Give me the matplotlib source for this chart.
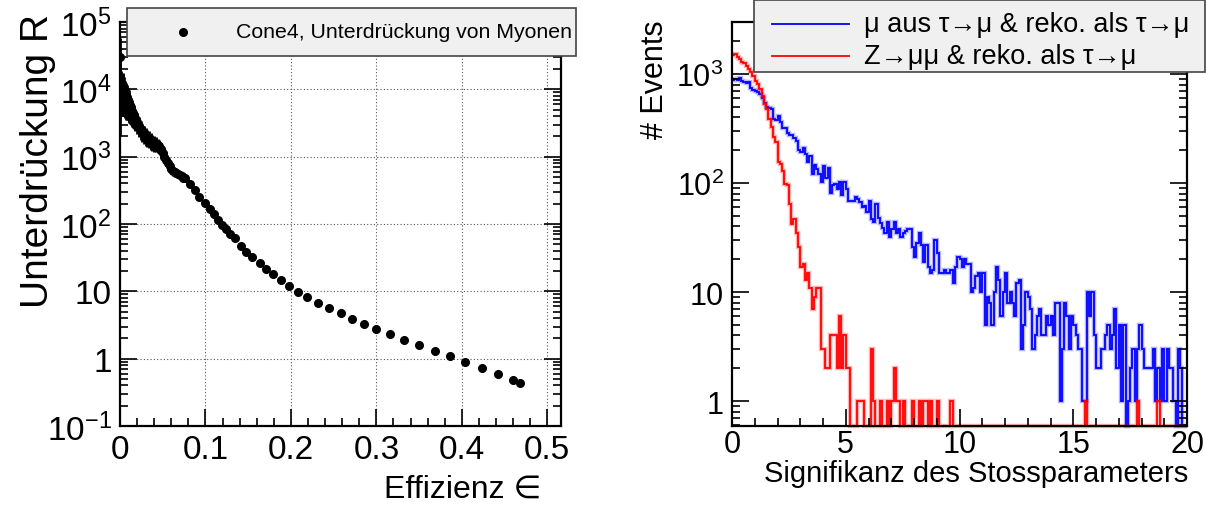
import numpy as np
import matplotlib
matplotlib.use('Agg')
from matplotlib import pyplot as plt
from matplotlib.ticker import FuncFormatter, LogLocator, MultipleLocator, NullFormatter
from matplotlib.patches import Rectangle
from matplotlib.lines import Line2D

plt.rcParams['font.family'] = ['Liberation Sans', 'DejaVu Sans']
plt.rcParams['mathtext.fontset'] = 'custom'
plt.rcParams['mathtext.rm'] = 'Liberation Sans'
plt.rcParams['axes.unicode_minus'] = False

# ---- left: Unterdrueckung vs Effizienz ----
eff_lo = [0.0, 0.0, 0.001, 0.002, 0.003, 0.004, 0.005, 0.006, 0.007, 0.008,
          0.009, 0.010, 0.011, 0.012, 0.013, 0.014, 0.015, 0.016, 0.018, 0.020,
          0.022, 0.024, 0.026, 0.028, 0.030, 0.032, 0.034, 0.036, 0.038, 0.040,
          0.042, 0.044, 0.046, 0.048, 0.050, 0.052, 0.054, 0.056, 0.058, 0.060,
          0.062, 0.064, 0.066, 0.068, 0.070, 0.072, 0.074]
R_lo = [30000, 15000, 12000, 10000, 11000, 9000, 9500, 8500, 8000, 7500,
        7000, 6500, 6000, 5600, 5200, 4800, 4500, 4200, 3700, 3300,
        2900, 2600, 2350, 2200, 2050, 1950, 1850, 1750, 1650, 1600,
        1550, 1500, 1420, 1300, 1150, 1000, 900, 800, 730, 660,
        610, 590, 570, 550, 530, 510, 490]
err_lo = [28000, 9000, 7000, 6000, 6500, 5000, 5500, 4800, 4500, 4000,
          3500, 3200, 2800, 2500, 2200, 2000, 1800, 1600, 1300, 1100,
          950, 820, 720, 650, 600, 560, 520, 480, 440, 410,
          380, 350, 320, 280, 240, 200, 170, 145, 125, 110,
          95, 85, 78, 70, 65, 60, 55]
eff_hi = [0.076, 0.082, 0.088, 0.093, 0.099, 0.105, 0.110, 0.115, 0.119, 0.124,
          0.129, 0.135, 0.141, 0.148, 0.155, 0.1635, 0.171, 0.179, 0.188, 0.198,
          0.2086, 0.219, 0.2315, 0.244, 0.258, 0.271, 0.2856, 0.300, 0.316, 0.332,
          0.350, 0.368, 0.3856, 0.404, 0.423, 0.442, 0.460, 0.468]
R_hi = [490, 390, 315, 252, 205, 168, 140, 115, 97, 83,
        70, 61, 47, 38, 32, 26.6, 21.6, 17.8, 14.6, 12.2,
        9.9, 8.2, 6.8, 5.7, 4.7, 3.9, 3.27, 2.72, 2.29, 1.9,
        1.58, 1.30, 1.08, 0.90, 0.73, 0.59, 0.48, 0.44]

# ---- right: Signifikanz des Stossparameters, 200 bins 0..20 ----
bin_width = 0.1
blue = [890, 900, 880, 910, 870, 850, 830, 840, 740, 720,
        700, 680, 660, 600, 540, 500, 490, 480, 390, 375,
        410, 365, 320, 318, 290, 276, 274, 257, 245, 200,
        191, 208, 185, 155, 176, 121, 146, 135, 121, 102,
        142, 111, 138, 81, 95, 98, 88, 103, 78, 103,
        88, 69, 69, 69, 75, 72, 67, 60, 62, 54,
        69, 47, 44, 64, 48, 43, 39, 35, 44, 32,
        38, 44, 35, 38, 32, 35, 36, 38, 38, 26,
        21, 28, 35, 27, 19, 27, 17, 15, 16, 30,
        23, 15, 15, 16, 15, 15, 16, 12, 17, 21,
        20, 17, 20, 18, 18, 10, 11, 14, 15, 10,
        15, 5, 9, 8, 5, 10, 17, 13, 6, 10,
        15, 8, 10, 8, 6, 12, 13, 3, 5, 10,
        9, 7, 3, 4, 6, 7, 4, 4, 6, 5,
        6, 4, 8, 8, 1, 3, 8, 6, 3, 6,
        5, 4, 3, 3, 1, 1, 10, 6, 10, 4,
        2, 2, 3, 3, 4, 5, 3, 4, 7, 2,
        5, 1, 5, 0, 1, 2, 3, 1, 3, 5,
        3, 2, 2, 2, 2, 3, 1, 2, 1, 3,
        1, 3, 2, 2, 1, 0, 3, 2, 0, 0]
red = [1503, 1525, 1423, 1373, 1297, 1262, 1192, 1112, 1050, 952,
       868, 810, 728, 632, 531, 478, 387, 325, 263, 236,
       155, 149, 130, 98, 95, 64, 42, 47, 35, 26,
       17, 18, 13, 15, 11, 7, 9, 11, 11, 3,
       3, 2, 2, 4, 4, 4, 2, 6, 2, 4,
       2, 2, 0, 0, 0, 1, 1, 1, 0, 0,
       0, 3, 1, 0, 0, 1, 0, 0, 1, 0,
       1, 2, 1, 1, 0, 1, 0, 0, 0, 1,
       0, 0, 1, 0, 1, 1, 0, 1, 0, 0,
       1, 0, 0, 0, 0, 0, 1, 0, 0, 0,
       0, 0, 0, 0, 0, 0, 0, 0, 0, 0,
       0, 0, 0, 0, 0, 0, 0, 0, 0, 0,
       0, 0, 0, 0, 0, 0, 0, 0, 0, 0,
       0, 0, 0, 0, 0, 0, 0, 0, 0, 0,
       0, 0, 0, 0, 0, 0, 0, 0, 0, 0,
       0, 0, 0, 0, 0, 1, 0, 0, 0, 0,
       0, 0, 0, 0, 0, 0, 0, 0, 0, 0,
       0, 0, 0, 0, 0, 0, 0, 0, 1, 0,
       0, 0, 0, 0, 0, 0, 0, 1, 0, 0,
       0, 0, 0, 0, 0, 0, 0, 0, 0, 0]

leg_left = 'Cone4, Unterdrückung von Myonen'
leg_blue = 'μ aus τ→μ & reko. als τ→μ'
leg_red = 'Z→μμ & reko. als τ→μ'

W, H = 1206, 506
fig = plt.figure(figsize=(W / 100, H / 100), dpi=100)


def fx(x):
    return x / W


def fy(y):
    return 1 - y / H


def log_fmt(v, pos):
    if v == 1:
        return '1'
    if v == 10:
        return '10'
    return r'$\mathregular{10^{%d}}$' % round(np.log10(v))


def style(ax, fs, xpad):
    for s in ax.spines.values():
        s.set_linewidth(1.6)
    ax.tick_params(which='both', direction='in', top=True, right=True,
                   width=1.2, labelsize=fs, pad=6)
    ax.tick_params(axis='x', which='both', pad=xpad)
    ax.tick_params(which='major', length=12)
    ax.tick_params(which='minor', length=6)
    ax.yaxis.set_major_locator(LogLocator(base=10, numticks=30))
    ax.yaxis.set_minor_locator(LogLocator(base=10, subs=np.arange(2, 10), numticks=100))
    ax.yaxis.set_major_formatter(FuncFormatter(log_fmt))
    ax.yaxis.set_minor_formatter(NullFormatter())


# left panel
ax1 = fig.add_axes([fx(120), fy(427), fx(561) - fx(120), fy(23) - fy(427)])
ax1.set_yscale('log')
ax1.errorbar(eff_lo, R_lo, yerr=err_lo, xerr=0.0015, fmt='o', color='k', ms=5.5,
             elinewidth=2.0, capsize=0)
ax1.plot(eff_hi, R_hi, 'o', color='k', ms=5.5)
ax1.set_xlim(0, 0.516)
ax1.set_ylim(0.1, 1e5)
ax1.xaxis.set_major_locator(MultipleLocator(0.1))
ax1.xaxis.set_minor_locator(MultipleLocator(0.02))
ax1.xaxis.set_major_formatter(FuncFormatter(lambda v, p: '0' if v == 0 else '%g' % round(v, 1)))
ax1.grid(True, which='major', linestyle=(0, (1, 2)), color='#555555', lw=0.8)
style(ax1, 24, 6)

# right panel
edges = np.arange(len(blue) + 1) * bin_width
ymin2 = 0.59
ax2 = fig.add_axes([fx(732), fy(427), fx(1187) - fx(732), fy(23) - fy(427)])
ax2.set_yscale('log')
for vals, col in ((blue, '#0000ff'), (red, '#ff0000')):
    v = np.maximum(np.array(vals, dtype=float), ymin2)
    ax2.stairs(v, edges, baseline=None, color=col, lw=3.2, alpha=0.3, clip_on=False)
    ax2.stairs(v, edges, baseline=None, color=col, lw=1.3, clip_on=False)
ax2.set_xlim(0, 20)
ax2.set_ylim(ymin2, 3000)
ax2.xaxis.set_major_locator(MultipleLocator(5))
ax2.xaxis.set_minor_locator(MultipleLocator(1))
style(ax2, 22, 2)

# axis titles
fig.text(fx(38), fy(14), 'Unterdrückung R', rotation=90, ha='center', va='top', fontsize=28)
fig.text(fx(541), fy(490), 'Effizienz ∈', ha='right', va='center', fontsize=23)
fig.text(fx(1188), fy(474), 'Signifikanz des Stossparameters', ha='right', va='center', fontsize=21)
fig.text(fx(655), fy(20), '# Events', rotation=90, ha='center', va='top', fontsize=22)

# legends drawn in ROOT style
fig.patches.append(Rectangle((fx(127), fy(57)), fx(576) - fx(127), fy(9) - fy(57),
                             transform=fig.transFigure, facecolor='#f0f0f0',
                             edgecolor='#444444', lw=1.2, zorder=5))
fig.lines.append(Line2D([fx(183)], [fy(33)], transform=fig.transFigure, marker='o',
                        color='k', ms=5.5, zorder=6))
fig.text(fx(572), fy(33), leg_left, ha='right', va='center', fontsize=15.3, zorder=6)

fig.patches.append(Rectangle((fx(754), fy(73)), fx(1205) - fx(754), fy(1) - fy(73),
                             transform=fig.transFigure, facecolor='#f0f0f0',
                             edgecolor='#444444', lw=1.2, zorder=5))
for yy, col, lab in ((25, '#0000ff', leg_blue), (57, '#ff0000', leg_red)):
    fig.lines.append(Line2D([fx(772), fx(849)], [fy(yy), fy(yy)], transform=fig.transFigure,
                            color=col, lw=1.3, zorder=6))
    fig.text(fx(864), fy(yy), lab, ha='left', va='center', fontsize=19.5, zorder=6)

fig.savefig('out.png', dpi=100)
